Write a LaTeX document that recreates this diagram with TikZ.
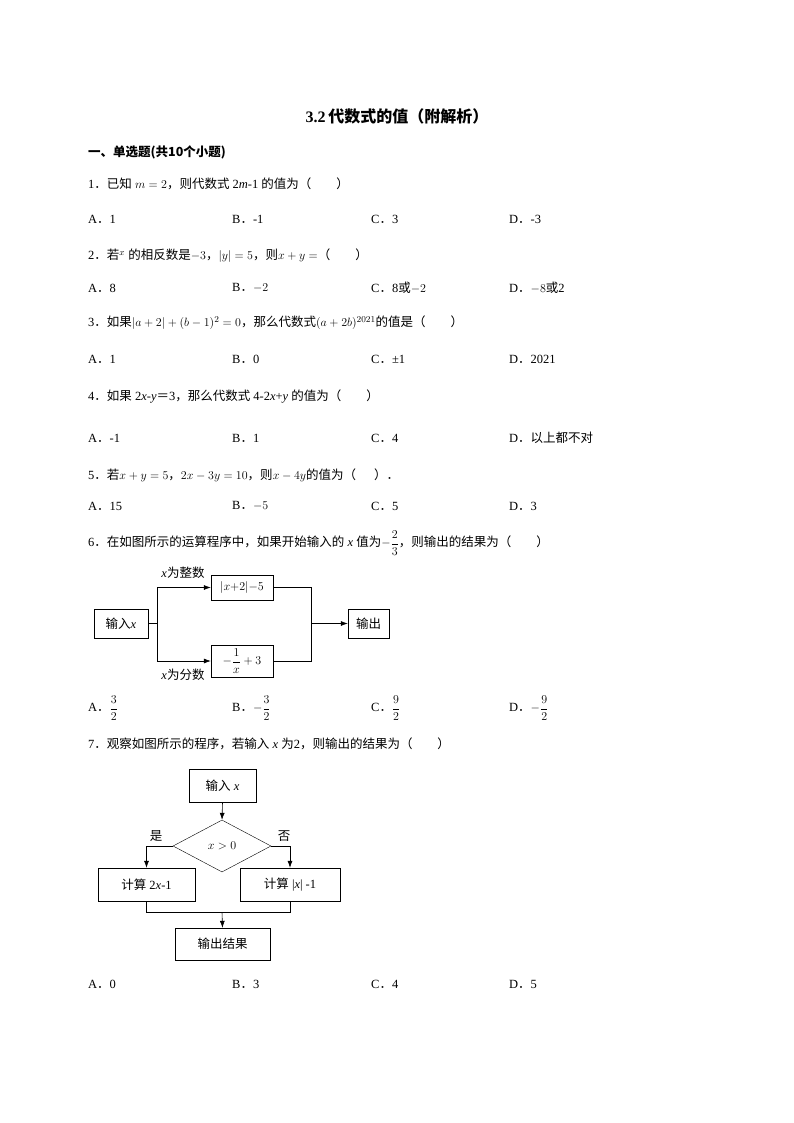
\documentclass[tikz,border=0pt]{standalone}
\usepackage{amsmath}
\usepackage{fontspec}
\setmainfont{Liberation Serif}
\newfontfamily\cjk{Noto Sans CJK SC}
\newcommand\qd{{\cjk ．}}
\usetikzlibrary{arrows.meta,shapes.geometric}
\begin{document}
\begin{tikzpicture}[x=1pt,y=-1pt,font=\fontsize{12.5}{15}\selectfont,
 t/.style={anchor=west,inner sep=0pt},
 bx/.style={draw,minimum width=#1,minimum height=30pt,inner sep=1pt},
 ar/.style={-{Latex[length=7pt,width=5pt]}},
 ln/.style={line width=0.6pt}]
\useasboundingbox[fill=white] (0,0) rectangle (794,1123);
\node[inner sep=0pt,font=\fontsize{16}{18}\selectfont\bfseries] (title) at (397,116) {3.2\,\cjk 代数式的值（附解析）};
\node[t,font=\fontsize{12.5}{15}\selectfont\bfseries] (sec) at (88,152) {\cjk 一、单选题(共10个小题)};
% Q1
\node[t] (q1) at (88,184) {1\qd{\cjk 已知} $m=2${\cjk ，则代数式} 2\textit{m}-1 {\cjk 的值为（\quad\quad ）}};
\node[t] (q1a) at (88,219) {A\qd 1};
\node[t] (q1b) at (232,219) {B\qd -1};
\node[t] (q1c) at (371,219) {C\qd 3};
\node[t] (q1d) at (509,219) {D\qd -3};
% Q2
\node[t] (q2) at (88,256) {2\qd{\cjk 若}$^{x}$ {\cjk 的相反数是}$-3${\cjk ，}$|y|=5${\cjk ，则}$x+y=${\cjk （\quad\quad ）}};
\node[t] (q2a) at (88,288) {A\qd 8};
\node[t] (q2b) at (232,288) {B\qd $-2$};
\node[t] (q2c) at (371,288) {C\qd 8{\cjk 或}$-2$};
\node[t] (q2d) at (509,288) {D\qd $-8${\cjk 或}2};
% Q3
\node[t] (q3) at (88,323) {3\qd{\cjk 如果}$|a+2|+(b-1)^2=0${\cjk ，那么代数式}$(a+2b)^{2021}${\cjk 的值是（\quad\quad ）}};
\node[t] (q3a) at (88,359) {A\qd 1};
\node[t] (q3b) at (232,359) {B\qd 0};
\node[t] (q3c) at (371,359) {C\qd ±1};
\node[t] (q3d) at (509,359) {D\qd 2021};
% Q4
\node[t] (q4) at (88,396) {4\qd{\cjk 如果} 2\textit{x}-\textit{y}{\cjk ＝}3{\cjk ，那么代数式} 4-2\textit{x}+\textit{y} {\cjk 的值为（\quad\quad ）}};
\node[t] (q4a) at (88,438) {A\qd -1};
\node[t] (q4b) at (232,438) {B\qd 1};
\node[t] (q4c) at (371,438) {C\qd 4};
\node[t] (q4d) at (509,438) {D\qd{\cjk 以上都不对}};
% Q5
\node[t] (q5) at (88,475) {5\qd{\cjk 若}$x+y=5${\cjk ，}$2x-3y=10${\cjk ，则}$x-4y${\cjk 的值为（\quad\ \ ）．}};
\node[t] (q5a) at (88,506) {A\qd 15};
\node[t] (q5b) at (232,506) {B\qd $-5$};
\node[t] (q5c) at (371,506) {C\qd 5};
\node[t] (q5d) at (509,506) {D\qd 3};
% Q6
\node[t] (q6) at (88,543) {6\qd{\cjk 在如图所示的运算程序中，如果开始输入的} \textit{x} {\cjk 值为}$-\dfrac{2}{3}${\cjk ，则输出的结果为（\quad\quad ）}};
\node[bx=54pt,minimum height=29pt] (in1) at (121,623.5) {{\cjk 输入}\textit{x}};
\node[bx=62pt,minimum height=25pt] (up) at (242,587.5) {$|x{+}2|{-}5$};
\node[bx=62pt,minimum height=32pt] (dn) at (242,661) {$-\dfrac{1}{x}+3$};
\node[bx=41pt,minimum height=29pt] (out1) at (368.5,623.5) {{\cjk 输出}};
\coordinate (br) at (157,623.5);
\coordinate (mg) at (311,623.5);
\draw[ln] (in1.east) -- (br);
\draw[ln,ar] (br) |- (up.west);
\draw[ln,ar] (br) |- (dn.west);
\draw[ln] (up.east) -| (mg);
\draw[ln] (dn.east) -| (mg);
\draw[ln,ar] (mg) -- (out1.west);
\node[inner sep=0pt] (l1) at (183,573) {\textit{x}\cjk 为整数};
\node[inner sep=0pt] (l2) at (183,675) {\textit{x}\cjk 为分数};
\node[t] (q6a) at (88,708) {A\qd $\dfrac{3}{2}$};
\node[t] (q6b) at (232,708) {B\qd $-\dfrac{3}{2}$};
\node[t] (q6c) at (371,708) {C\qd $\dfrac{9}{2}$};
\node[t] (q6d) at (509,708) {D\qd $-\dfrac{9}{2}$};
% Q7
\node[t] (q7) at (88,744) {7\qd{\cjk 观察如图所示的程序，若输入} \textit{x} {\cjk 为}2{\cjk ，则输出的结果为（\quad\quad ）}};
\node[bx=67pt,minimum height=33pt] (in2) at (222.5,785.5) {{\cjk 输入} \textit{x}};
\node[draw,diamond,aspect=1.9,minimum width=98pt,minimum height=52pt,inner sep=0pt] (dm) at (222,846) {$x>0$};
\node[bx=97pt,minimum height=33pt] (lb) at (146.5,884.5) {{\cjk 计算} 2\textit{x}-1};
\node[bx=100pt,minimum height=33pt] (rb) at (290,884.5) {{\cjk 计算} |\textit{x}| -1};
\node[bx=95pt,minimum height=32pt] (res) at (222.5,944) {\cjk 输出结果};
\draw[ln,ar] (in2.south) -- (dm.north);
\draw[ln,ar] (dm.west) -| (lb.north);
\draw[ln,ar] (dm.east) -| (rb.north);
\coordinate (j) at (222,912);
\draw[ln] (lb.south) |- (j) -| (rb.south);
\draw[ln,ar] (j) -- (res.north);
\node[inner sep=0pt] (yes) at (156,836) {\cjk 是};
\node[inner sep=0pt] (no) at (284,836) {\cjk 否};
\node[t] (q7a) at (88,984) {A\qd 0};
\node[t] (q7b) at (232,984) {B\qd 3};
\node[t] (q7c) at (371,984) {C\qd 4};
\node[t] (q7d) at (509,984) {D\qd 5};
\end{tikzpicture}
\end{document}
